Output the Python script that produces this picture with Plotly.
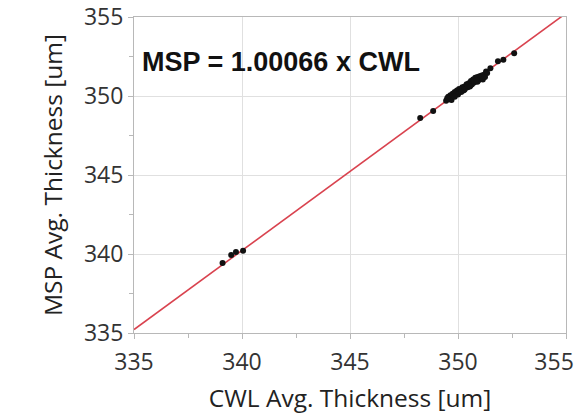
import plotly.graph_objects as go

cwl = [339.10, 339.50, 339.72, 340.05,
       348.25, 348.85, 349.45, 349.55, 349.60, 349.65, 349.70, 349.75, 349.80, 349.85,
       349.90, 349.95, 350.00, 350.05, 350.10, 350.15, 350.20, 350.25, 350.30, 350.35,
       350.40, 350.45, 350.50, 350.55, 350.60, 350.65, 350.70, 350.75, 350.80, 350.85,
       350.90, 350.95, 351.00, 351.05, 351.10, 351.20, 351.30, 351.35, 351.50, 351.85,
       352.10, 352.60, 349.70, 350.00, 350.30, 350.60, 350.90, 351.15, 350.45, 350.75,
       349.85, 350.15, 350.55, 350.85, 351.25, 349.50]
msp = [339.43, 339.94, 340.13, 340.20,
       348.60, 349.05, 349.70, 349.95, 349.80, 350.05, 349.90, 350.15, 350.00, 350.25,
       350.10, 350.35, 350.20, 350.45, 350.30, 350.40, 350.55, 350.35, 350.60, 350.50,
       350.75, 350.55, 350.80, 350.65, 350.95, 350.75, 351.05, 350.85, 351.15, 350.95,
       351.20, 351.00, 351.25, 351.10, 351.30, 351.35, 351.55, 351.45, 351.75, 352.20,
       352.30, 352.70, 349.75, 350.10, 350.40, 350.70, 350.90, 351.05, 350.65, 350.95,
       349.95, 350.25, 350.60, 351.00, 351.20, 349.85]

tick_vals = [335, 340, 345, 350, 355]
x_tick_labels = ["335", "340", "345", "350", "355\u00a0\u00a0\u00a0\u00a0"]
y_tick_labels = ["335", "340", "345", "350", "355"]

slope = 1.00066
line_x = [335, 355]
line_y = [slope * v for v in line_x]

fig = go.Figure()
fig.add_trace(go.Scatter(x=line_x, y=line_y, mode="lines",
                         line=dict(color="#d9434f", width=1.6),
                         showlegend=False, hoverinfo="skip"))
fig.add_trace(go.Scatter(x=cwl, y=msp, mode="markers",
                         marker=dict(color="#111111", size=6),
                         showlegend=False))

tickfont = dict(family="Open Sans, DejaVu Sans, sans-serif", size=23, color="#333333")
titlefont = dict(family="Open Sans, DejaVu Sans, sans-serif", size=24.5, color="#222222")

axis_common = dict(
    range=[335, 355], tickmode="array", tickvals=tick_vals,
    showgrid=True, gridcolor="#e0e0e0", gridwidth=1,
    showline=True, linecolor="#b8b8b8", linewidth=1, mirror=True,
    ticks="outside", ticklen=5, tickcolor="#b8b8b8",
    minor=dict(dtick=2.5, tick0=335, ticks="outside", ticklen=4, tickcolor="#b8b8b8", showgrid=False),
    tickfont=tickfont, ticklabeloverflow="allow", automargin=False,
    zeroline=False,
)

fig.update_layout(
    width=575, height=414,
    margin=dict(l=134, r=9, t=17, b=81),
    paper_bgcolor="white", plot_bgcolor="white",
    xaxis=dict(**axis_common, ticktext=x_tick_labels, ticklabelstandoff=3,
               title=dict(text="CWL Avg. Thickness [um]", standoff=15, font=titlefont)),
    yaxis=dict(**axis_common, ticktext=y_tick_labels,
               title=dict(text="MSP Avg. Thickness [um]", standoff=14, font=titlefont)),
    annotations=[dict(x=0.015, y=0.858, xref="paper", yref="paper", xanchor="left", yanchor="middle",
                      text="<b>MSP = 1.00066 x CWL</b>", showarrow=False,
                      font=dict(family="Liberation Sans, Arial, sans-serif", size=27, color="#111111"))],
)

fig.write_html("out.html")
